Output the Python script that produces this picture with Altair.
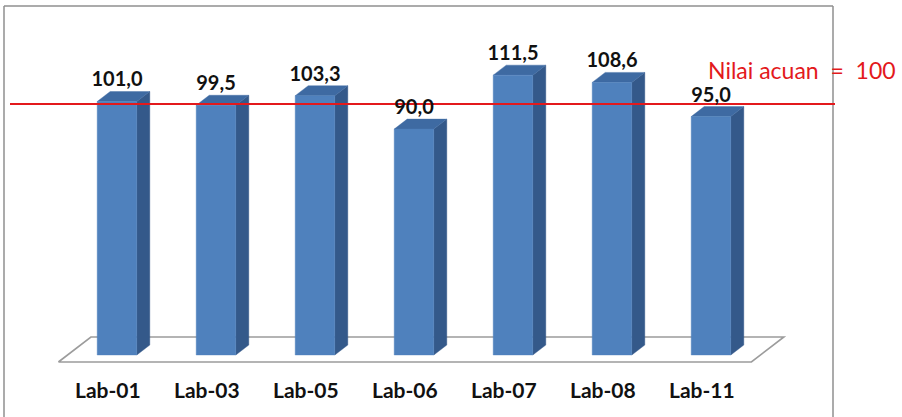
import altair as alt
import pandas as pd

# Chart values
labs = ["Lab-01", "Lab-03", "Lab-05", "Lab-06", "Lab-07", "Lab-08", "Lab-11"]
values = [101.0, 99.5, 103.3, 90.0, 111.5, 108.6, 95.0]
reference = 100

# Layout / 3D styling (x in category-index units, y in value units)
W, H = 902, 417
X_DOMAIN = [-117 / 99, (W - 117) / 99]
Y_DOMAIN = [(355 - H) / 2.51, 355 / 2.51]
HALF = 0.2            # half width of a bar's front face
DX = 13 / 99          # depth shift along x
DY = 10 / 2.51        # depth shift along y
FLOOR_FRONT, FLOOR_BACK = -0.7, 1.8   # floor depth range (in bar depths)

FRONT = "#4F81BD"
SIDE = "#34598A"
TOP = "#3E6AA2"
FONT = "Lato"

xs = alt.Scale(domain=X_DOMAIN, nice=False, zero=False)
ys = alt.Scale(domain=Y_DOMAIN, nice=False, zero=False)

bars = pd.DataFrame({"lab": labs, "value": values, "i": range(len(labs))})
bars["x0"] = bars["i"] - HALF
bars["x1"] = bars["i"] + HALF
bars["label"] = bars["value"].map(lambda v: f"{v:.1f}".replace(".", ","))
bars["top_back"] = bars["value"] + DY
bars["lab_x"] = bars["i"] + FLOOR_FRONT * DX

# side faces (2 points per bar) and top faces (4 points per bar) as areas
side_rows, top_rows = [], []
for _, r in bars.iterrows():
    i, v = r["i"], r["value"]
    side_rows += [
        {"lab": r["lab"], "x": i + HALF, "y": v, "y2": 0.0},
        {"lab": r["lab"], "x": i + HALF + DX, "y": v + DY, "y2": DY},
    ]
    top_rows += [
        {"lab": r["lab"], "x": i - HALF, "y": v, "y2": v},
        {"lab": r["lab"], "x": i - HALF + DX, "y": v + DY, "y2": v},
        {"lab": r["lab"], "x": i + HALF, "y": v + DY, "y2": v},
        {"lab": r["lab"], "x": i + HALF + DX, "y": v + DY, "y2": v + DY},
    ]
sides = pd.DataFrame(side_rows)
tops = pd.DataFrame(top_rows)

# floor outline (parallelogram under the bars)
n = len(labs)
lo, hi = -0.5, n - 0.5
floor = pd.DataFrame([
    {"k": 0, "x": lo + FLOOR_FRONT * DX, "y": FLOOR_FRONT * DY},
    {"k": 1, "x": hi + FLOOR_FRONT * DX, "y": FLOOR_FRONT * DY},
    {"k": 2, "x": hi + FLOOR_BACK * DX, "y": FLOOR_BACK * DY},
    {"k": 3, "x": lo + FLOOR_BACK * DX, "y": FLOOR_BACK * DY},
    {"k": 4, "x": lo + FLOOR_FRONT * DX, "y": FLOOR_FRONT * DY},
])

floor_line = alt.Chart(floor).mark_line(color="#9c9c9c", strokeWidth=1.6).encode(
    x=alt.X("x:Q", scale=xs, axis=None),
    y=alt.Y("y:Q", scale=ys, axis=None),
    order="k:Q",
)

front = alt.Chart(bars).mark_rect(color=FRONT, stroke=FRONT, strokeWidth=0.4).encode(
    x=alt.X("x0:Q", scale=xs, axis=None),
    x2="x1:Q",
    y=alt.Y("value:Q", scale=ys, axis=None),
    y2=alt.datum(0),
)

side = alt.Chart(sides).mark_area(color=SIDE, stroke=SIDE, strokeWidth=0.4).encode(
    x=alt.X("x:Q", scale=xs, axis=None),
    y=alt.Y("y:Q", scale=ys, axis=None),
    y2="y2:Q",
    detail="lab:N",
)

top = alt.Chart(tops).mark_area(color=TOP, stroke=TOP, strokeWidth=0.4).encode(
    x=alt.X("x:Q", scale=xs, axis=None),
    y=alt.Y("y:Q", scale=ys, axis=None),
    y2="y2:Q",
    detail="lab:N",
)

value_labels = alt.Chart(bars).mark_text(
    font=FONT, fontSize=20, fontWeight="bold", color="#111111",
    baseline="alphabetic", align="center", dy=-5,
).encode(
    x=alt.X("i:Q", scale=xs, axis=None),
    y=alt.Y("top_back:Q", scale=ys, axis=None),
    text="label:N",
)

cat_labels = alt.Chart(bars).mark_text(
    font=FONT, fontSize=21, fontWeight="bold", color="#111111",
    baseline="alphabetic", align="center",
).encode(
    x=alt.X("lab_x:Q", scale=xs, axis=None),
    y=alt.value(398),
    text="lab:N",
)

ref_df = pd.DataFrame({"ref": [reference],
                       "txt": [f"Nilai acuan\u00a0\u00a0=\u00a0\u00a0{reference}"]})

ref_rule = alt.Chart(ref_df).mark_rule(color="#E3191C", strokeWidth=2).encode(
    y=alt.Y("ref:Q", scale=ys, axis=None),
    x=alt.value(10),
    x2=alt.value(835),
)

ref_text = alt.Chart(ref_df).mark_text(
    font=FONT, fontSize=23, color="#E3191C", align="left", baseline="alphabetic",
).encode(
    x=alt.value(708),
    y=alt.value(79),
    text="txt:N",
)

# chart frame (left, top, right edges)
frame_color = "#8f8f8f"
frame_df = pd.DataFrame({"k": [0]})
frame_left = alt.Chart(frame_df).mark_rule(color=frame_color, strokeWidth=1.5).encode(
    x=alt.value(4), y=alt.value(6), y2=alt.value(H))
frame_top = alt.Chart(frame_df).mark_rule(color=frame_color, strokeWidth=1.5).encode(
    x=alt.value(4), x2=alt.value(833), y=alt.value(6))
frame_right = alt.Chart(frame_df).mark_rule(color=frame_color, strokeWidth=1.5).encode(
    x=alt.value(833), y=alt.value(6), y2=alt.value(H))

chart = alt.layer(
    frame_left, frame_top, frame_right,
    floor_line, side, top, front, ref_rule,
    value_labels, cat_labels, ref_text,
).properties(
    width=W, height=H, padding=0, autosize=alt.AutoSizeParams(type="none"),
    background="white",
).configure_view(strokeWidth=0)

chart.save("out.html", embed_options={"renderer": "svg", "actions": False})
